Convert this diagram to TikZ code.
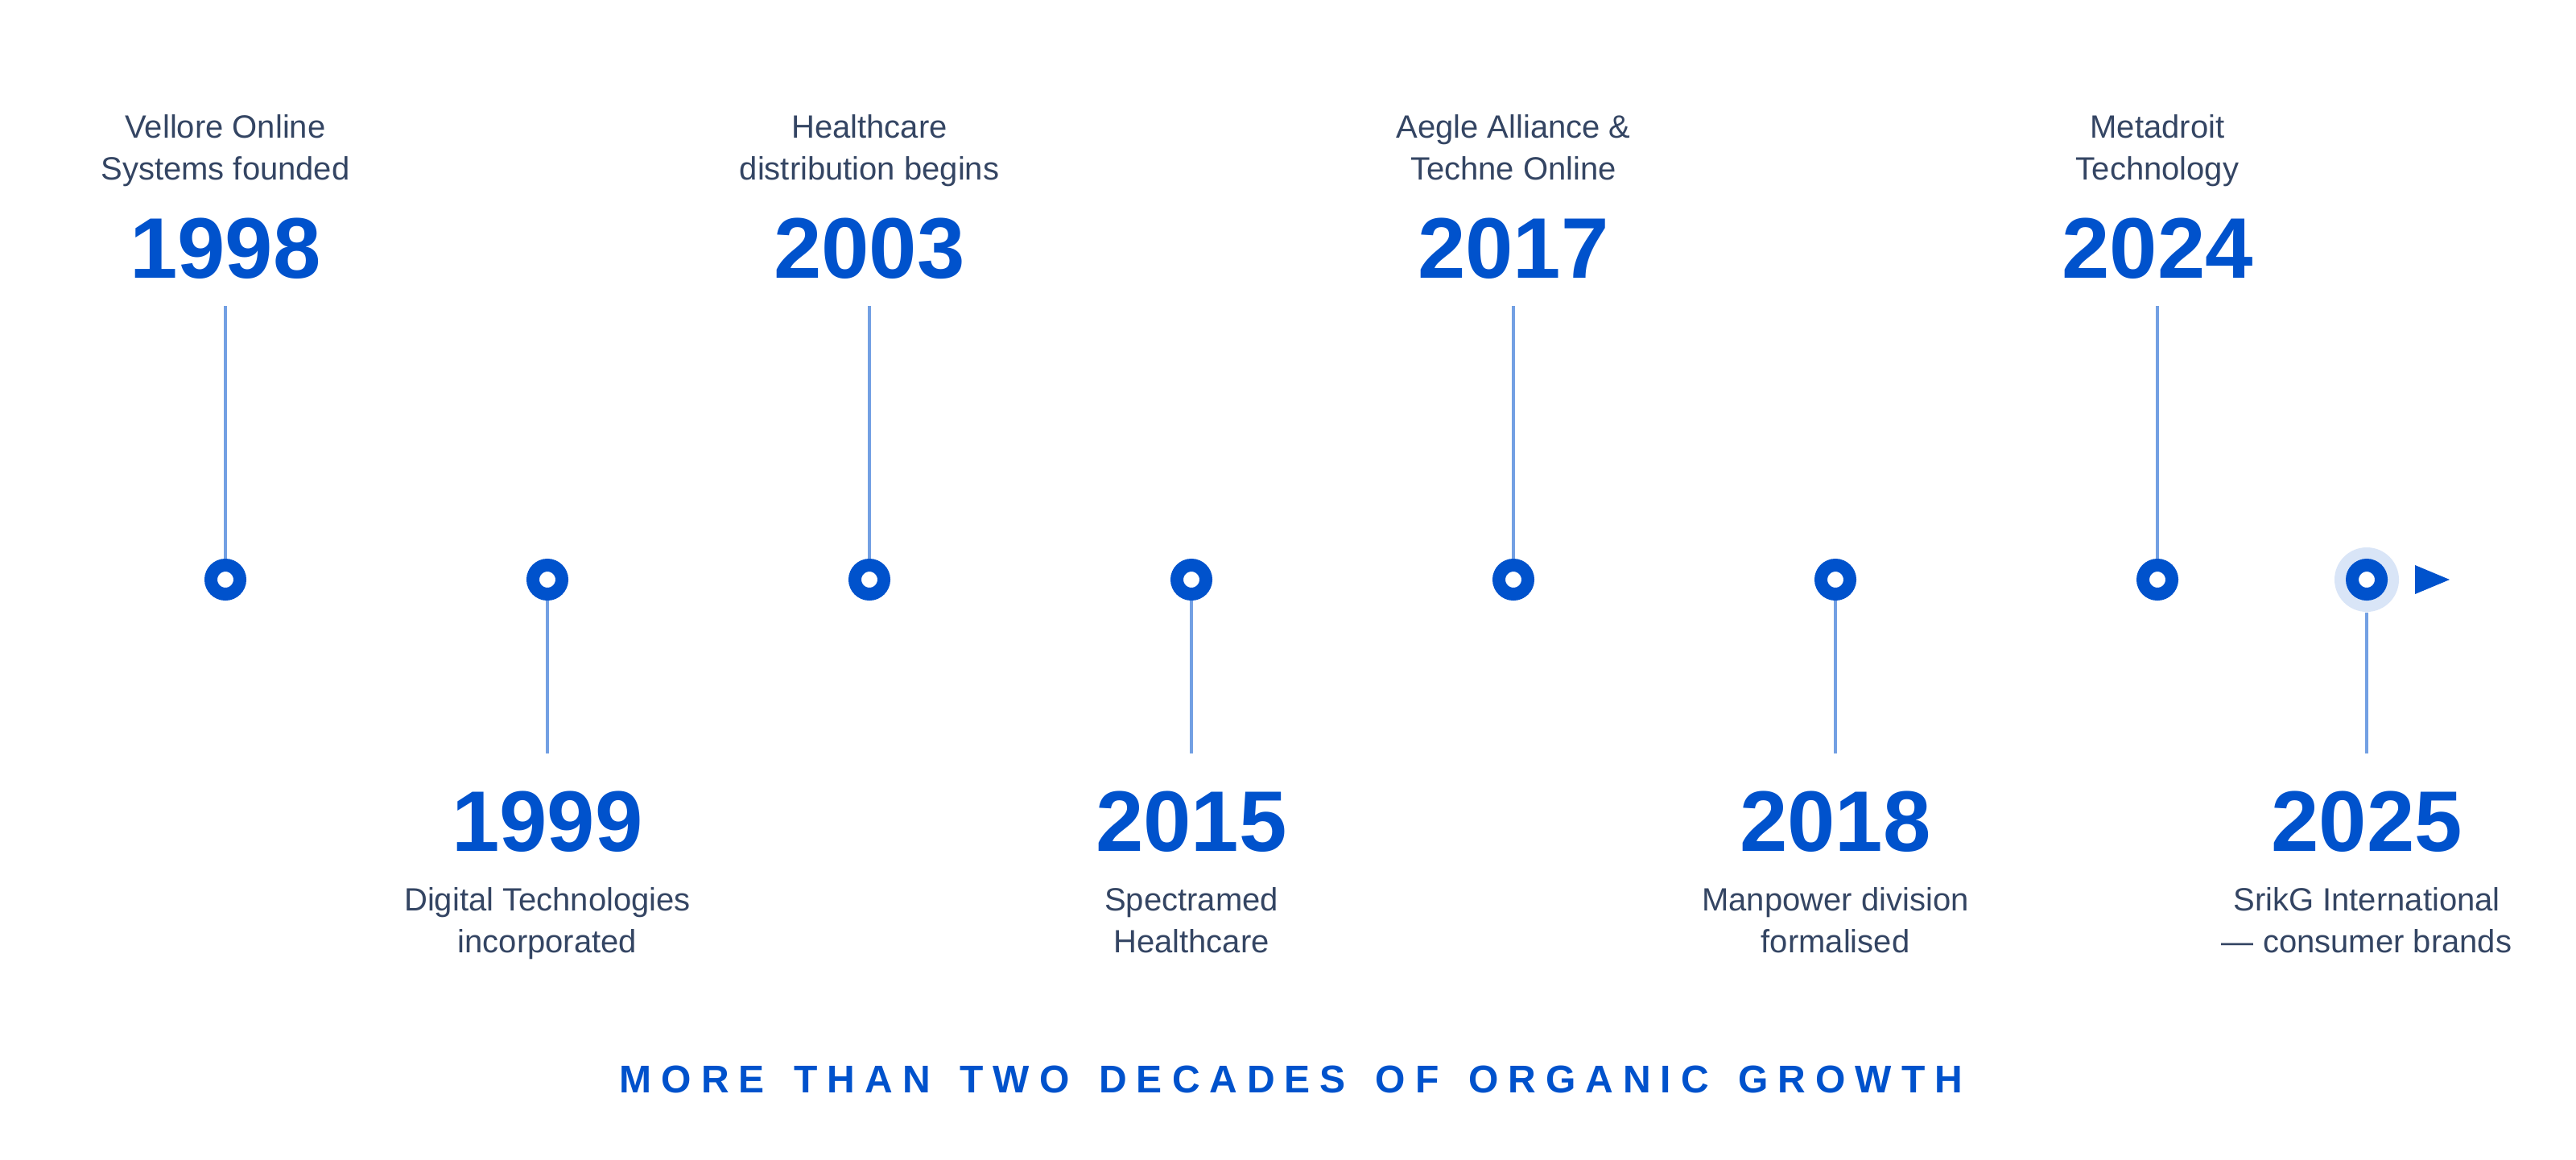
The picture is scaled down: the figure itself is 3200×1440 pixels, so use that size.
\documentclass[tikz,border=0pt]{standalone}
\usepackage{fontspec}
\setmainfont{Liberation Sans}
\newfontfamily\titlefont[LetterSpace=25,WordSpace=1.45]{Liberation Sans}
\definecolor{brand}{HTML}{0052CC}
\definecolor{ink}{HTML}{344563}
\definecolor{stemc}{HTML}{73A0E3}
\definecolor{haloc}{HTML}{D9E5F7}
\begin{document}
\begin{tikzpicture}[x=0.25pt,y=-0.25pt,
  dot/.style={circle,draw=brand,line width=4pt,fill=white,minimum size=9pt,inner sep=0pt},
  stem/.style={draw=stemc,line width=1pt},
  year/.style={text=brand,font=\fontsize{26.7pt}{30pt}\selectfont\bfseries,anchor=base,inner sep=0pt},
  desc/.style={text=ink,font=\fontsize{10pt}{13pt}\selectfont,align=center,anchor=base,inner sep=0pt},
  halo/.style={circle,fill=haloc,minimum size=20pt,inner sep=0pt},
  ttl/.style={text=brand,font=\fontsize{12pt}{14pt}\titlefont\bfseries,anchor=base,inner sep=0pt},
]
\useasboundingbox[fill=white] (0,0) rectangle (3200,1440);

% halo behind the last dot
\node[halo] (h8) at (2940,720) {};

% dots
\node[dot] (d1) at (280,720) {};
\node[dot] (d2) at (680,720) {};
\node[dot] (d3) at (1080,720) {};
\node[dot] (d4) at (1480,720) {};
\node[dot] (d5) at (1880,720) {};
\node[dot] (d6) at (2280,720) {};
\node[dot] (d7) at (2680,720) {};
\node[dot] (d8) at (2940,720) {};

% end marker
\fill[brand] (3000,702) -- (3000,738) -- (3043,720) -- cycle;

% stem ends
\coordinate (t1) at (280,380);
\coordinate (t3) at (1080,380);
\coordinate (t5) at (1880,380);
\coordinate (t7) at (2680,380);
\coordinate (b2) at (680,936);
\coordinate (b4) at (1480,936);
\coordinate (b6) at (2280,936);
\coordinate (b8) at (2940,936);

\draw[stem] (t1) -- (d1);
\draw[stem] (t3) -- (d3);
\draw[stem] (t5) -- (d5);
\draw[stem] (t7) -- (d7);
\draw[stem] (d2) -- (b2);
\draw[stem] (d4) -- (b4);
\draw[stem] (d6) -- (b6);
\draw[stem] (h8) -- (b8);

% top labels (anchor = baseline of the last line)
\node[desc] (e1) at (280,223) {Vellore Online\\Systems founded};
\node[year] (y1) at (280,345) {1998};
\node[desc] (e3) at (1080,223) {Healthcare\\distribution begins};
\node[year] (y3) at (1080,345) {2003};
\node[desc] (e5) at (1880,223) {Aegle Alliance \&\\Techne Online};
\node[year] (y5) at (1880,345) {2017};
\node[desc] (e7) at (2680,223) {Metadroit\\Technology};
\node[year] (y7) at (2680,345) {2024};

% bottom labels
\node[year] (y2) at (680,1057) {1999};
\node[desc] (e2) at (680,1183) {Digital Technologies\\incorporated};
\node[year] (y4) at (1480,1057) {2015};
\node[desc] (e4) at (1480,1183) {Spectramed\\Healthcare};
\node[year] (y6) at (2280,1057) {2018};
\node[desc] (e6) at (2280,1183) {Manpower division\\formalised};
\node[year] (y8) at (2940,1057) {2025};
\node[desc] (e8) at (2940,1183) {SrikG International\\— consumer brands};

% caption
\node[ttl] (cap) at (1604,1357) {MORE THAN TWO DECADES OF ORGANIC GROWTH};
\end{tikzpicture}
\end{document}
